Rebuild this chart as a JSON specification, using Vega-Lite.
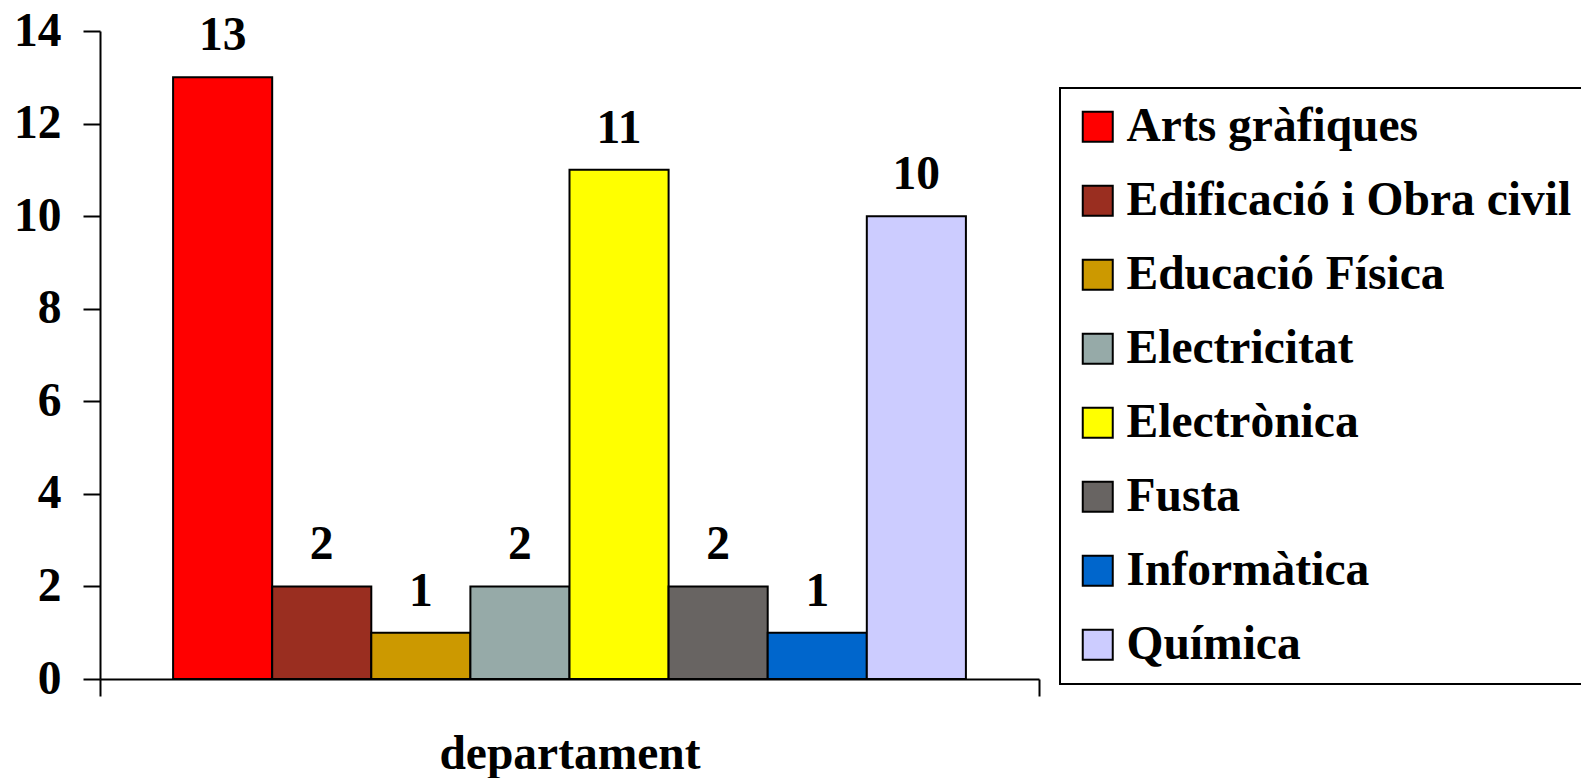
{
  "$schema": "https://vega.github.io/schema/vega-lite/v6.json",
  "width": 939,
  "height": 648,
  "autosize": {"type": "none"},
  "padding": {"left": 100, "top": 31, "right": 542, "bottom": 99},
  "background": "white",
  "config": {
    "view": {"stroke": null},
    "font": "Liberation Serif"
  },
  "data": {
    "values": [
      {"grup": "departament", "departament": "Arts gràfiques", "valor": 13},
      {"grup": "departament", "departament": "Edificació i Obra civil", "valor": 2},
      {"grup": "departament", "departament": "Educació Física", "valor": 1},
      {"grup": "departament", "departament": "Electricitat", "valor": 2},
      {"grup": "departament", "departament": "Electrònica", "valor": 11},
      {"grup": "departament", "departament": "Fusta", "valor": 2},
      {"grup": "departament", "departament": "Informàtica", "valor": 1},
      {"grup": "departament", "departament": "Química", "valor": 10}
    ]
  },
  "encoding": {
    "x": {
      "field": "grup",
      "type": "nominal",
      "scale": {"paddingInner": 0, "paddingOuter": 0},
      "axis": {
        "title": "departament",
        "titleFontSize": 47.5,
        "titleFontWeight": "bold",
        "titleColor": "black",
        "titlePadding": 33,
        "labels": false,
        "tickBand": "extent",
        "tickSize": 17,
        "tickWidth": 2,
        "tickColor": "black",
        "domainColor": "black",
        "domainWidth": 2
      }
    },
    "xOffset": {
      "field": "departament",
      "type": "nominal",
      "scale": {"paddingInner": 0, "paddingOuter": 0.7375}
    },
    "y": {
      "field": "valor",
      "type": "quantitative",
      "scale": {"domain": [0, 14], "nice": false},
      "axis": {
        "title": null,
        "values": [0, 2, 4, 6, 8, 10, 12, 14],
        "grid": false,
        "labelFontSize": 47.5,
        "labelFontWeight": "bold",
        "labelColor": "black",
        "labelPadding": 22,
        "tickSize": 17,
        "tickWidth": 2,
        "tickColor": "black",
        "domainColor": "black",
        "domainWidth": 2
      }
    }
  },
  "layer": [
    {
      "mark": {"type": "bar", "stroke": "black", "strokeWidth": 2},
      "encoding": {
        "color": {
          "field": "departament",
          "type": "nominal",
          "scale": {
            "domain": ["Arts gràfiques", "Edificació i Obra civil", "Educació Física", "Electricitat", "Electrònica", "Fusta", "Informàtica", "Química"],
            "range": ["#FF0000", "#9A2E20", "#CC9900", "#96AAA8", "#FFFF00", "#686462", "#0066CC", "#CCCCFF"]
          },
          "legend": {
            "title": null,
            "orient": "none",
            "legendX": 960,
            "legendY": 57,
            "padding": 15,
            "symbolOffset": -1,
            "strokeColor": "black",
            "fillColor": "white",
            "symbolType": "square",
            "symbolSize": 900,
            "symbolStrokeColor": "black",
            "symbolStrokeWidth": 2,
            "symbolOpacity": 1,
            "labelFontSize": 47.5,
            "labelFontWeight": "bold",
            "labelColor": "black",
            "labelOffset": 5,
            "labelLimit": 1000,
            "rowPadding": 25,
            "encode": {"legend": {"update": {"strokeWidth": {"value": 2}}}}
          }
        }
      }
    },
    {
      "mark": {"type": "text", "baseline": "alphabetic", "dy": -27, "fontSize": 47.5, "fontWeight": "bold", "color": "black"},
      "encoding": {
        "text": {"field": "valor", "type": "quantitative"}
      }
    }
  ]
}
